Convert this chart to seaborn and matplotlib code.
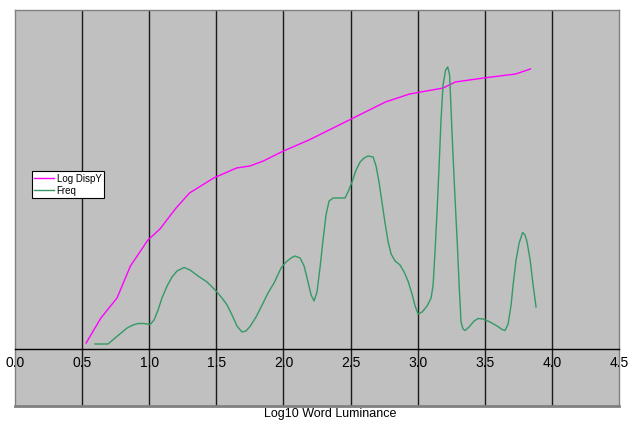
import numpy as np
import pandas as pd
import seaborn as sns
import matplotlib.pyplot as plt

# Log DispY curve (x = log10 word luminance, y = height above the axis line)
disp_x = [0.53, 0.64, 0.76, 0.86, 0.99, 1.08, 1.20, 1.30, 1.48, 1.65, 1.75, 1.85,
          2.00, 2.19, 2.46, 2.61, 2.76, 2.94, 3.19, 3.28, 3.49, 3.73, 3.84]
disp_y = [0.06, 0.31, 0.51, 0.83, 1.09, 1.20, 1.41, 1.56, 1.71, 1.81, 1.83, 1.88,
          1.98, 2.09, 2.27, 2.37, 2.47, 2.55, 2.61, 2.67, 2.71, 2.75, 2.80]

# Freq curve
freq_x = [0.596, 0.693, 0.745, 0.790, 0.835, 0.879, 0.917, 0.961, 1.006, 1.036,
          1.066, 1.095, 1.133, 1.170, 1.207, 1.259, 1.304, 1.364, 1.431, 1.498,
          1.542, 1.580, 1.617, 1.654, 1.691, 1.721, 1.751, 1.796, 1.841, 1.885,
          1.930, 1.982, 2.019, 2.057, 2.086, 2.124, 2.154, 2.183, 2.206, 2.228,
          2.250, 2.273, 2.295, 2.317, 2.340, 2.370, 2.422, 2.459, 2.481, 2.511,
          2.541, 2.571, 2.601, 2.630, 2.668, 2.690, 2.712, 2.735, 2.757, 2.780,
          2.802, 2.832, 2.869, 2.899, 2.928, 2.958, 2.981, 3.003, 3.033, 3.070,
          3.100, 3.115, 3.130, 3.145, 3.160, 3.174, 3.189, 3.208, 3.224, 3.238,
          3.249, 3.264, 3.279, 3.294, 3.309, 3.323, 3.338, 3.353, 3.383, 3.420,
          3.450, 3.487, 3.539, 3.592, 3.629, 3.651, 3.674, 3.696, 3.711, 3.733,
          3.756, 3.782, 3.800, 3.815, 3.838, 3.860, 3.882]
freq_y = [0.05, 0.05, 0.11, 0.16, 0.21, 0.24, 0.255, 0.255, 0.245, 0.29,
          0.39, 0.51, 0.63, 0.72, 0.78, 0.815, 0.79, 0.73, 0.67, 0.58,
          0.51, 0.44, 0.34, 0.23, 0.17, 0.18, 0.225, 0.32, 0.44, 0.56,
          0.66, 0.81, 0.87, 0.91, 0.93, 0.91, 0.83, 0.67, 0.54, 0.48,
          0.57, 0.82, 1.09, 1.34, 1.48, 1.51, 1.51, 1.51, 1.57, 1.67,
          1.79, 1.87, 1.91, 1.93, 1.92, 1.83, 1.67, 1.46, 1.26, 1.07,
          0.95, 0.88, 0.84, 0.77, 0.68, 0.55, 0.43, 0.35, 0.37, 0.43,
          0.51, 0.64, 0.99, 1.39, 1.84, 2.29, 2.64, 2.79, 2.82, 2.74,
          2.39, 1.92, 1.49, 1.09, 0.64, 0.27, 0.20, 0.185, 0.22, 0.28,
          0.305, 0.30, 0.27, 0.23, 0.195, 0.185, 0.25, 0.44, 0.64, 0.89,
          1.06, 1.165, 1.14, 1.07, 0.89, 0.64, 0.42]

x_ticks = [0.0, 0.5, 1.0, 1.5, 2.0, 2.5, 3.0, 3.5, 4.0, 4.5]

df_disp = pd.DataFrame({"x": disp_x, "y": disp_y})
df_freq = pd.DataFrame({"x": freq_x, "y": freq_y})

plt.rcParams["font.family"] = ["Liberation Sans", "DejaVu Sans"]

fig = plt.figure(figsize=(6.36, 4.24), dpi=100)
ax = fig.add_axes([15 / 636, 18 / 424, 604 / 636, 396 / 424])
ax.set_facecolor("#c0c0c0")

for xv in x_ticks[1:-1]:
    ax.axvline(xv, color="#1a1a1a", lw=1.0, zorder=1)

sns.lineplot(data=df_disp, x="x", y="y", color="#ff00ff", lw=1.0,
             estimator=None, sort=False, label="Log DispY", ax=ax, zorder=3)
sns.lineplot(data=df_freq, x="x", y="y", color="#339966", lw=1.0,
             estimator=None, sort=False, label="Freq", ax=ax, zorder=3,
             solid_joinstyle="round")

ax.set_xlim(0, 4.5)
ax.set_ylim(-0.57, 3.39)
ax.set_xticks(x_ticks)
ax.set_xticklabels([f"{t:.1f}" for t in x_ticks], fontsize=10)
ax.tick_params(axis="x", length=0, pad=5)
ax.set_yticks([])
ax.set_xlabel("")
ax.set_ylabel("")

ax.spines["bottom"].set_position(("data", 0))
ax.spines["bottom"].set_color("black")
ax.spines["bottom"].set_linewidth(1.0)
for s in ["left", "right", "top"]:
    ax.spines[s].set_color("#808080")
    ax.spines[s].set_linewidth(1.0)
ax.axhline(-0.57, color="#808080", lw=2.0, zorder=4, clip_on=False)

leg = ax.legend(loc="upper left", bbox_to_anchor=(0.028, 0.593), borderaxespad=0,
                fancybox=False, edgecolor="black", framealpha=1, fontsize=7,
                handlelength=2.0, handletextpad=0.3, borderpad=0.25, labelspacing=0.2)
leg.get_frame().set_linewidth(0.8)

fig.text(330 / 636, 10 / 424, "Log10 Word Luminance", ha="center", va="center", fontsize=9)

fig.savefig("out.png", dpi=100)
